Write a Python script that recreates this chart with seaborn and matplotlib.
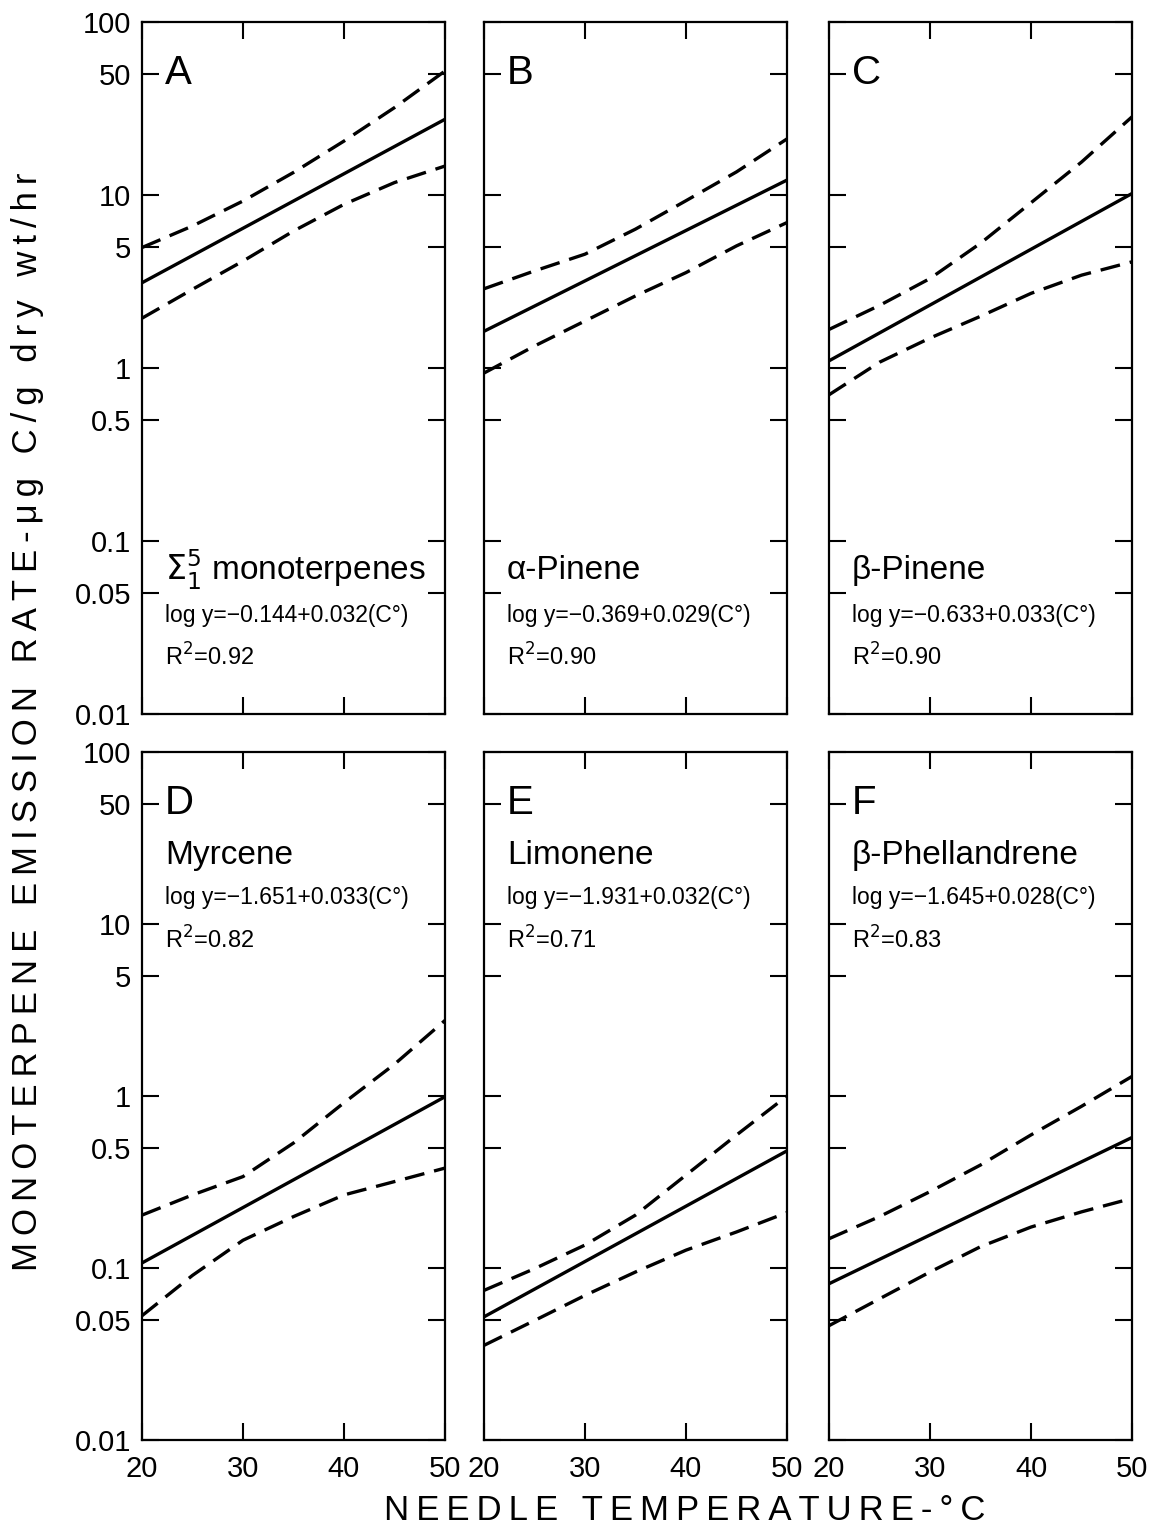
import numpy as np
import pandas as pd
import matplotlib
matplotlib.use('Agg')
import matplotlib.pyplot as plt
import seaborn as sns
from matplotlib.ticker import FixedLocator, FixedFormatter, NullLocator

band_temps = [20, 25, 30, 35, 40, 45, 50]
fit_temps = [20, 50]

panel_letters = ['A', 'B', 'C', 'D', 'E', 'F']
compounds = [r'$\Sigma_1^5$ monoterpenes', 'α-Pinene', 'β-Pinene',
             'Myrcene', 'Limonene', 'β-Phellandrene']
equations = ['log y=−0.144+0.032(C°)', 'log y=−0.369+0.029(C°)',
             'log y=−0.633+0.033(C°)', 'log y=−1.651+0.033(C°)',
             'log y=−1.931+0.032(C°)', 'log y=−1.645+0.028(C°)']
r_squared = ['0.92', '0.90', '0.90', '0.82', '0.71', '0.83']

# regression line (ends) and 95% band, emission rate in ug C/g dry wt/hr
fit_A = [3.11, 27.4]
upper_A = [4.97, 6.62, 9.23, 13.5, 20.5, 32.0, 52.1]
lower_A = [1.94, 2.85, 4.15, 6.19, 8.83, 11.8, 14.7]

fit_B = [1.63, 12.2]
upper_B = [2.87, 3.64, 4.55, 6.35, 9.27, 13.6, 21.1]
lower_B = [0.935, 1.34, 1.87, 2.61, 3.56, 5.08, 6.93]

fit_C = [1.10, 10.2]
upper_C = [1.67, 2.30, 3.29, 5.26, 9.02, 15.5, 28.3]
lower_C = [0.70, 1.08, 1.49, 1.99, 2.70, 3.44, 4.11]

fit_D = [0.107, 0.99]
upper_D = [0.203, 0.266, 0.340, 0.533, 0.914, 1.53, 2.75]
lower_D = [0.0528, 0.0906, 0.145, 0.199, 0.266, 0.318, 0.381]

fit_E = [0.052, 0.48]
upper_E = [0.0741, 0.0991, 0.136, 0.203, 0.347, 0.593, 1.0]
lower_E = [0.0355, 0.0495, 0.0693, 0.0948, 0.127, 0.162, 0.210]

fit_F = [0.081, 0.574]
upper_F = [0.148, 0.199, 0.278, 0.397, 0.594, 0.871, 1.30]
lower_F = [0.0462, 0.0662, 0.0948, 0.133, 0.173, 0.212, 0.254]

fits = [fit_A, fit_B, fit_C, fit_D, fit_E, fit_F]
uppers = [upper_A, upper_B, upper_C, upper_D, upper_E, upper_F]
lowers = [lower_A, lower_B, lower_C, lower_D, lower_E, lower_F]

y_ticks = [0.01, 0.05, 0.1, 0.5, 1, 5, 10, 50, 100]
y_ticklabels = ['0.01', '0.05', '0.1', '0.5', '1', '5', '10', '50', '100']
x_ticks = [20, 30, 40, 50]

sns.set_style('ticks')
plt.rcParams['font.family'] = ['Liberation Sans', 'DejaVu Sans']
plt.rcParams['mathtext.fontset'] = 'dejavusans'
plt.rcParams['text.color'] = 'black'
plt.rcParams['axes.labelcolor'] = 'black'

W, H = 1153, 1534
fig = plt.figure(figsize=(W / 100, H / 100), dpi=100)

col_left = [142, 484, 829]
col_w = 303
row_top = [22, 752]
row_h = [692, 688]

dash = (0, (6, 3))

for i in range(6):
    r, c = divmod(i, 3)
    ax = fig.add_axes([col_left[c] / W, 1 - (row_top[r] + row_h[r]) / H,
                       col_w / W, row_h[r] / H])

    sns.lineplot(x=fit_temps, y=fits[i], ax=ax, color='black', lw=2.4,
                 estimator=None)
    sns.lineplot(x=band_temps, y=uppers[i], ax=ax, color='black', lw=2.4,
                 linestyle=dash, estimator=None)
    sns.lineplot(x=band_temps, y=lowers[i], ax=ax, color='black', lw=2.4,
                 linestyle=dash, estimator=None)

    ax.set_yscale('log')
    ax.set_xlim(20, 50)
    ax.set_ylim(0.01, 100)
    ax.yaxis.set_major_locator(FixedLocator(y_ticks))
    ax.yaxis.set_major_formatter(FixedFormatter(y_ticklabels))
    ax.yaxis.set_minor_locator(NullLocator())
    ax.xaxis.set_major_locator(FixedLocator(x_ticks))
    ax.xaxis.set_minor_locator(NullLocator())
    ax.tick_params(direction='in', length=12, width=1.5, top=True, right=True,
                   labelsize=21, pad=8, colors='black')
    ax.tick_params(axis='x', pad=11)
    ax.tick_params(labelleft=(c == 0), labelbottom=(r == 1))
    for s in ax.spines.values():
        s.set_linewidth(1.6)
        s.set_color('black')
    ax.set_xlabel('')
    ax.set_ylabel('')

    ax.text(0.076, 0.926, panel_letters[i], transform=ax.transAxes,
            fontsize=29, va='center', ha='left')
    if r == 0:
        ys = [0.208, 0.143, 0.082]
    else:
        ys = [0.850, 0.789, 0.727]
    ax.text(0.076, ys[0], compounds[i], transform=ax.transAxes,
            fontsize=24, va='center', ha='left')
    ax.text(0.076, ys[1], equations[i], transform=ax.transAxes,
            fontsize=16.5, va='center', ha='left')
    ax.text(0.076, ys[2], 'R$^2$=' + r_squared[i], transform=ax.transAxes,
            fontsize=17, va='center', ha='left')

def spaced(s):
    return '\u2009'.join(s)

fig.text(28 / W, 1 - 722 / H,
         spaced('MONOTERPENE EMISSION RATE-μg C/g dry wt/hr'),
         rotation=90, fontsize=25, ha='center', va='center')
fig.text(685 / W, 1 - 1510 / H, spaced('NEEDLE TEMPERATURE-°C'),
         fontsize=25, ha='center', va='center')

fig.savefig('out.png', dpi=100)
